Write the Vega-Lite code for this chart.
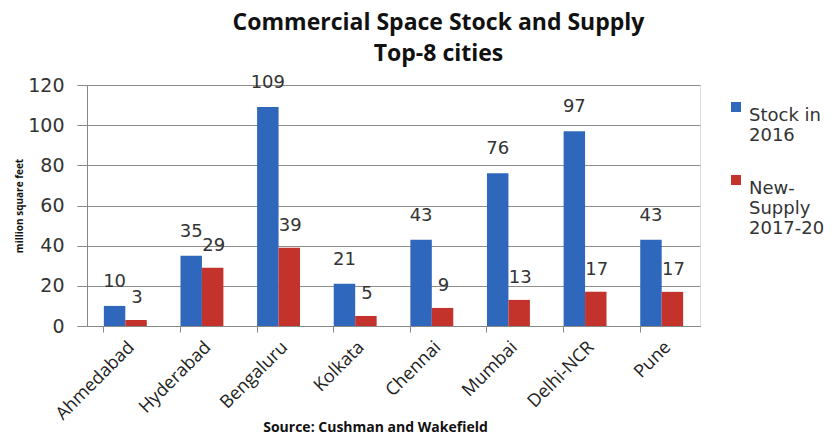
{
  "$schema": "https://vega.github.io/schema/vega-lite/v6.json",
  "autosize": "none",
  "width": 613,
  "height": 241,
  "padding": {"left": 87, "top": 85, "right": 139, "bottom": 110},
  "background": "white",
  "title": {
    "text": ["Commercial Space Stock and Supply", "Top-8 cities"],
    "font": "Open Sans",
    "fontSize": 23,
    "fontWeight": "bold",
    "color": "#111111",
    "lineHeight": 31,
    "anchor": "middle",
    "dx": 45,
    "offset": 8
  },
  "data": {
    "values": [
      {"city": "Ahmedabad", "series": "Stock in 2016", "value": 10},
      {"city": "Ahmedabad", "series": "New-Supply 2017-20", "value": 3},
      {"city": "Hyderabad", "series": "Stock in 2016", "value": 35},
      {"city": "Hyderabad", "series": "New-Supply 2017-20", "value": 29},
      {"city": "Bengaluru", "series": "Stock in 2016", "value": 109},
      {"city": "Bengaluru", "series": "New-Supply 2017-20", "value": 39},
      {"city": "Kolkata", "series": "Stock in 2016", "value": 21},
      {"city": "Kolkata", "series": "New-Supply 2017-20", "value": 5},
      {"city": "Chennai", "series": "Stock in 2016", "value": 43},
      {"city": "Chennai", "series": "New-Supply 2017-20", "value": 9},
      {"city": "Mumbai", "series": "Stock in 2016", "value": 76},
      {"city": "Mumbai", "series": "New-Supply 2017-20", "value": 13},
      {"city": "Delhi-NCR", "series": "Stock in 2016", "value": 97},
      {"city": "Delhi-NCR", "series": "New-Supply 2017-20", "value": 17},
      {"city": "Pune", "series": "Stock in 2016", "value": 43},
      {"city": "Pune", "series": "New-Supply 2017-20", "value": 17}
    ]
  },
  "encoding": {
    "x": {
      "field": "city",
      "type": "nominal",
      "sort": null,
      "scale": {"paddingInner": 0.44, "paddingOuter": 0.22},
      "axis": {
        "title": "Source: Cushman and Wakefield",
        "titleFont": "Open Sans",
        "titleFontSize": 14,
        "titleFontWeight": "bold",
        "titleColor": "#111111",
        "titleX": 288,
        "titleY": 105,
        "titleAnchor": null,
        "titleAlign": "center",
        "titleBaseline": "alphabetic",
        "labelAngle": -45,
        "labelFont": "Open Sans",
        "labelFontSize": 18,
        "labelColor": "#222222",
        "labelPadding": 6,
        "bandPosition": 0,
        "tickSize": 6,
        "tickColor": "#888888",
        "domainColor": "#888888",
        "grid": false
      }
    },
    "xOffset": {"field": "series", "type": "nominal", "sort": ["Stock in 2016", "New-Supply 2017-20"]},
    "y": {
      "field": "value",
      "type": "quantitative",
      "scale": {"domain": [0, 120], "nice": false},
      "axis": {
        "values": [0, 20, 40, 60, 80, 100, 120],
        "title": "million square feet",
        "titleFont": "Open Sans",
        "titleFontSize": 10,
        "titleFontWeight": "bold",
        "titleColor": "#111111",
        "titlePadding": 3,
        "labelFont": "DejaVu Sans",
        "labelFontSize": 19,
        "labelColor": "#333333",
        "labelPadding": 13,
        "tickSize": 10,
        "tickColor": "#888888",
        "domainColor": "#888888",
        "gridColor": "#8c8c8c",
        "gridWidth": 1
      }
    }
  },
  "layer": [
    {
      "mark": {"type": "bar"},
      "encoding": {
        "color": {
          "field": "series",
          "type": "nominal",
          "sort": ["Stock in 2016", "New-Supply 2017-20"],
          "scale": {"domain": ["Stock in 2016", "New-Supply 2017-20"], "range": ["#2f67bd", "#c3322b"]},
          "legend": {
            "title": null,
            "orient": "none",
            "legendX": 640,
            "legendY": 13,
            "symbolType": "square",
            "symbolSize": 100,
            "labelFont": "DejaVu Sans",
            "labelFontSize": 18,
            "labelColor": "#333333",
            "labelBaseline": "top",
            "labelOffset": 4,
            "rowPadding": 26,
            "labelLimit": 200,
            "labelExpr": "datum.label == 'Stock in 2016' ? ['Stock in', '2016'] : ['New-', 'Supply', '2017-20']"
          }
        }
      }
    },
    {
      "transform": [{"filter": "datum.series == 'Stock in 2016'"}],
      "mark": {"type": "text", "font": "DejaVu Sans", "fontSize": 18, "color": "#333333", "baseline": "middle", "dy": -24},
      "encoding": {"text": {"field": "value", "type": "quantitative"}}
    },
    {
      "transform": [{"filter": "datum.series == 'New-Supply 2017-20'"}],
      "mark": {"type": "text", "font": "DejaVu Sans", "fontSize": 18, "color": "#333333", "baseline": "middle", "dy": -22, "dx": 1},
      "encoding": {"text": {"field": "value", "type": "quantitative"}}
    }
  ]
}
